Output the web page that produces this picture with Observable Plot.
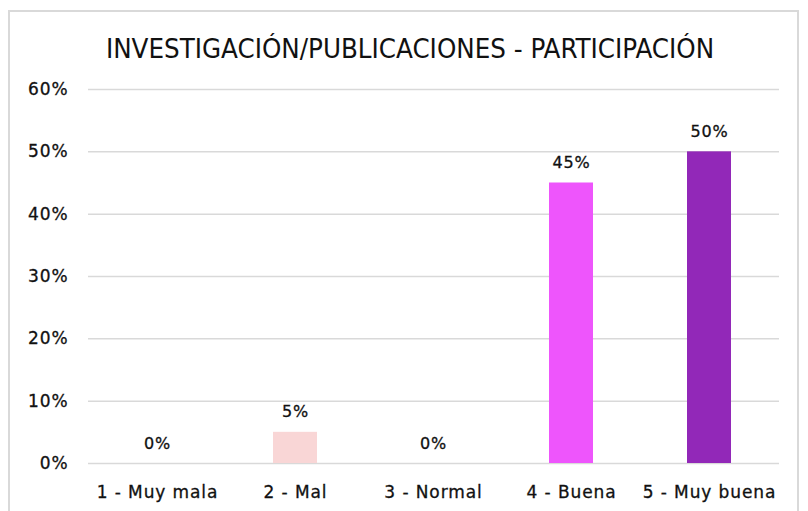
<!DOCTYPE html>
<html>
<head>
<meta charset="utf-8">
<script src="https://cdn.jsdelivr.net/npm/d3@7"></script>
<script src="https://cdn.jsdelivr.net/npm/@observablehq/plot@0.6"></script>
<style>
  html, body { margin: 0; padding: 0; background: #fff; width: 808px; height: 511px; overflow: hidden; }
  #frame { position: absolute; left: 8px; top: 10px; width: 791px; height: 520px; border: 2px solid #d9d9d9; border-bottom: none; box-sizing: border-box; }
  #title { position: absolute; left: 0; top: 0; width: 808px; height: 80px; text-align: center; font-family: "DejaVu Sans Condensed", "DejaVu Sans", sans-serif; font-size: 27.4px; color: #111; line-height: 98px; padding-left: 12px; box-sizing: border-box; }
  #chart { position: absolute; left: 0; top: 80px; }
  #chart svg text { letter-spacing: 0.9px; paint-order: stroke; stroke: #111; stroke-width: 0.3px; }
</style>
</head>
<body>
<div id="frame"></div>
<div id="title">INVESTIGACIÓN/PUBLICACIONES - PARTICIPACIÓN</div>
<div id="chart"></div>
<script>
const categories = ["1 - Muy mala", "2 - Mal", "3 - Normal", "4 - Buena", "5 - Muy buena"];
const values = [0, 0.05, 0, 0.45, 0.50];
const labels = ["0%", "5%", "0%", "45%", "50%"];
const colors = ["#f9d6d6", "#f9d6d6", "#f9d6d6", "#ee55fc", "#9228b8"];
const yTicks = [0, 0.1, 0.2, 0.3, 0.4, 0.5, 0.6];

const data = categories.map((c, i) => ({cat: c, value: values[i], label: labels[i], color: colors[i]}));

const font = "'DejaVu Sans', sans-serif";

const chart = Plot.plot({
  width: 808,
  height: 431,
  marginLeft: 88,
  marginRight: 29,
  marginTop: 9,
  marginBottom: 48,
  style: { fontFamily: font, fontSize: "17px", color: "#111", background: "transparent" },
  x: { domain: categories, paddingInner: 0.68, paddingOuter: 0.34, label: null },
  y: { domain: [0, 0.6], label: null },
  marks: [
    Plot.ruleY(yTicks, { stroke: "#d9d9d9", strokeWidth: 1.5 }),
    Plot.barY(data, { x: "cat", y: "value", fill: "color" }),
    Plot.text(data, { x: "cat", y: "value", text: "label", dy: -20, fontSize: 16, fill: "#111" }),
    Plot.axisX({ tickSize: 0, tickPadding: 22, fontSize: 17, label: null, fill: "#111" }),
    Plot.axisY({ ticks: yTicks, tickFormat: d => Math.round(d * 100) + "%", tickSize: 0, tickPadding: 20, fontSize: 17, label: null, fill: "#111" })
  ]
});
document.getElementById("chart").appendChild(chart);
</script>
</body>
</html>
